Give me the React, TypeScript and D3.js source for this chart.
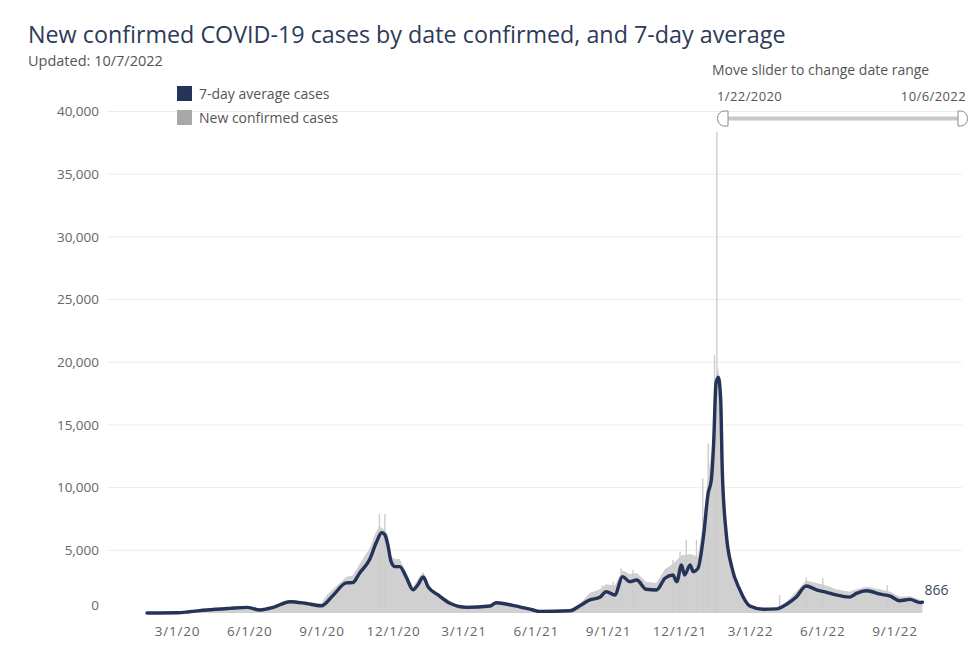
import React from "react";
import * as d3 from "d3";

// 7-day average at irregular dates
const avgDates = [
    "2020-01-22", "2020-03-01", "2020-03-16", "2020-04-07", "2020-05-06", "2020-05-28", "2020-06-14",
    "2020-07-01", "2020-07-22", "2020-08-12", "2020-08-31", "2020-09-15", "2020-10-02", "2020-10-10",
    "2020-10-19", "2020-11-01", "2020-11-09", "2020-11-16", "2020-11-20", "2020-11-24", "2020-11-28",
    "2020-12-03", "2020-12-09", "2020-12-17", "2020-12-26", "2021-01-01", "2021-01-08", "2021-01-14",
    "2021-01-27", "2021-02-11", "2021-03-04", "2021-04-03", "2021-04-11", "2021-05-02", "2021-05-28",
    "2021-06-05", "2021-07-14", "2021-07-26", "2021-08-08", "2021-08-21", "2021-08-29", "2021-09-09",
    "2021-09-19", "2021-09-28", "2021-10-07", "2021-10-19", "2021-11-01", "2021-11-12", "2021-11-22",
    "2021-11-27", "2021-12-03", "2021-12-07", "2021-12-14", "2021-12-18", "2021-12-24", "2021-12-31",
    "2022-01-06", "2022-01-10", "2022-01-13", "2022-01-16", "2022-01-19", "2022-01-22", "2022-01-24",
    "2022-01-29", "2022-02-05", "2022-02-15", "2022-02-28", "2022-03-17", "2022-04-03", "2022-04-16",
    "2022-04-28", "2022-05-11", "2022-05-24", "2022-06-06", "2022-06-18", "2022-07-05", "2022-07-14",
    "2022-07-27", "2022-08-13", "2022-08-26", "2022-09-07", "2022-09-20", "2022-10-03", "2022-10-06"
];
const avgValues = [
    0, 20, 100, 240, 370, 450, 240,
    450, 900, 760, 580, 1400, 2400, 2420,
    3200, 4300, 5600, 6400, 6250, 5400, 4100,
    3700, 3700, 2900, 1850, 2230, 2870, 2100,
    1440, 770, 450, 560, 820, 610, 240,
    130, 180, 560, 1040, 1250, 1700, 1440,
    2900, 2500, 2630, 1890, 1830, 2770, 3030,
    2500, 3830, 3030, 3830, 3290, 3560, 6080,
    9540, 10600, 13530, 18310, 18800, 17000, 11400,
    6360, 3690, 1900, 560, 300, 330, 700,
    1250, 2150, 1850, 1650, 1440, 1270, 1570,
    1770, 1500, 1350, 980, 1090, 830, 866
];

// top edge of the daily bars (typical daily highs)
const caseDates = [
    "2020-01-22", "2020-03-16", "2020-04-07", "2020-05-06", "2020-05-28", "2020-06-14", "2020-07-01",
    "2020-07-22", "2020-08-12", "2020-08-31", "2020-09-08", "2020-09-15", "2020-10-02", "2020-10-10",
    "2020-10-19", "2020-11-01", "2020-11-09", "2020-11-13", "2020-11-20", "2020-11-24", "2020-11-28",
    "2020-12-03", "2020-12-09", "2020-12-17", "2020-12-26", "2021-01-01", "2021-01-08", "2021-01-16",
    "2021-01-29", "2021-02-19", "2021-03-12", "2021-04-03", "2021-04-11", "2021-05-02", "2021-05-28",
    "2021-06-05", "2021-07-14", "2021-07-26", "2021-08-08", "2021-08-21", "2021-08-29", "2021-09-09",
    "2021-09-19", "2021-09-28", "2021-10-07", "2021-10-19", "2021-11-01", "2021-11-12", "2021-11-22",
    "2021-12-03", "2021-12-14", "2021-12-24", "2021-12-31", "2022-01-06", "2022-01-13", "2022-01-16",
    "2022-01-19", "2022-01-22", "2022-01-24", "2022-01-29", "2022-02-05", "2022-02-15", "2022-02-28",
    "2022-03-17", "2022-04-03", "2022-04-16", "2022-04-28", "2022-05-11", "2022-05-24", "2022-06-06",
    "2022-06-18", "2022-07-05", "2022-07-14", "2022-07-27", "2022-08-13", "2022-08-26", "2022-09-07",
    "2022-09-20", "2022-10-03", "2022-10-06"
];
const caseValues = [
    0, 150, 330, 480, 560, 350, 600,
    1050, 900, 750, 1500, 1900, 2900, 3000,
    3900, 5200, 6500, 6900, 6600, 6200, 4500,
    4300, 4300, 3300, 2100, 2700, 3300, 2100,
    1450, 700, 550, 650, 950, 720, 300,
    180, 250, 700, 1600, 1900, 2300, 2200,
    3400, 3100, 3200, 2500, 2400, 3500, 3900,
    4600, 4700, 4500, 7500, 11000, 14000, 19000,
    19500, 17500, 12000, 6800, 4000, 2000, 700,
    380, 420, 900, 1700, 2600, 2400, 2200,
    1900, 1700, 1900, 2100, 1900, 1700, 1300,
    1350, 1050, 900
];

// single days that stand out above the rest
const spikeDates = [
    "2020-11-13", "2020-11-20", "2021-08-24", "2021-09-07", "2021-09-17", "2021-10-02", "2021-11-22",
    "2021-12-01", "2021-12-09", "2021-12-22", "2021-12-30", "2022-01-06", "2022-01-14", "2022-01-17",
    "2022-04-07", "2022-05-11", "2022-06-01", "2022-08-22"
];
const spikeValues = [
    7900, 7900, 2200, 2500, 3560, 3430, 4230,
    4890, 5820, 5820, 10740, 13530, 20570, 38380,
    1440, 2850, 2770, 2230
];

const xTickDates = [
    "2020-03-01", "2020-06-01", "2020-09-01", "2020-12-01", "2021-03-01", "2021-06-01",
    "2021-09-01", "2021-12-01", "2022-03-01", "2022-06-01", "2022-09-01"
];
const yTicks = [0, 5000, 10000, 15000, 20000, 25000, 30000, 35000, 40000];

const startDate = "2020-01-22";
const endDate = "2022-10-06";

const width = 980;
const height = 656;
const font = "'Open Sans', sans-serif";
const navy = "#243358";
const textGray = "#666666";

const parse = d3.timeParse("%Y-%m-%d");

export default function App() {
    const x = d3.scaleTime()
        .domain([parse(startDate)!, parse(endDate)!])
        .range([147, 922.4]);
    const y = d3.scaleLinear()
        .domain([0, 40000])
        .range([613, 111.5]);

    const avg = avgDates.map((d, i) => ({date: parse(d)!, value: avgValues[i]}));
    const cases = caseDates.map((d, i) => ({date: parse(d)!, value: caseValues[i]}));
    const spikes = spikeDates.map((d, i) => ({date: parse(d)!, value: spikeValues[i]}));

    const line = d3.line<{date: Date, value: number}>()
        .x(d => x(d.date))
        .y(d => y(d.value))
        .curve(d3.curveMonotoneX);

    const area = d3.area<{date: Date, value: number}>()
        .x(d => x(d.date))
        .y0(y(0))
        .y1(d => y(d.value))
        .curve(d3.curveLinear);

    const fmtDate = d3.timeFormat("%-m/%-d/%y");
    const fmtNum = d3.format(",");
    const last = avg[avg.length - 1];

    return (
        <svg width={width} height={height}
             style={{position: "absolute", left: 0, top: 0, background: "white", fontFamily: font}}>
            <text x={28} y={43} fontSize={23.3} fill="#2d3a58">
                New confirmed COVID-19 cases by date confirmed, and 7-day average
            </text>
            <text x={28} y={66} fontSize={14.5} fill="#555555">Updated: 10/7/2022</text>

            {/* grid + y labels */}
            {yTicks.map(t => (
                <g key={t}>
                    {t > 0 && <line x1={107} x2={962} y1={y(t)} y2={y(t)} stroke="#ececec" strokeWidth={1}/>}
                    <text x={99} y={t === 0 ? y(t) - 8 : y(t)} dy="0.35em" textAnchor="end"
                          fontSize={13.5} fill={textGray}>{fmtNum(t)}</text>
                </g>
            ))}

            {/* x labels */}
            {xTickDates.map(d => (
                <text key={d} x={x(parse(d)!)} y={636} textAnchor="middle" fontSize={13.5}
                      fill={textGray} letterSpacing={0.8}>{fmtDate(parse(d)!)}</text>
            ))}

            {/* daily cases */}
            <path d={area(cases) || ""} fill="#d0d0d0"/>
            {spikes.map(s => (
                <rect key={s.date.toISOString()} x={x(s.date) - 0.6} width={1.4}
                      y={y(s.value)} height={y(0) - y(s.value)} fill="#cdcdcd"/>
            ))}

            {/* 7-day average */}
            <path d={line(avg) || ""} fill="none" stroke={navy} strokeWidth={3.4}
                  strokeLinejoin="round" strokeLinecap="round"/>
            <text x={x(last.date) + 2} y={y(last.value) - 7} fontSize={14} fill="#3d4866">
                {fmtNum(last.value)}
            </text>

            {/* legend */}
            <rect x={177} y={86} width={15} height={15} fill={navy}/>
            <text x={199} y={99} fontSize={14} fill="#555555">7-day average cases</text>
            <rect x={177} y={110} width={15} height={15} fill="#a8a8a8"/>
            <text x={199} y={123} fontSize={14} fill="#555555">New confirmed cases</text>

            {/* slider */}
            <text x={712} y={75} fontSize={14} fill="#555555">Move slider to change date range</text>
            <text x={717} y={101} fontSize={13} fill="#555555" letterSpacing={0.4}>1/22/2020</text>
            <text x={966} y={101} fontSize={13} fill="#555555" textAnchor="end" letterSpacing={0.4}>10/6/2022</text>
            <line x1={727} x2={959} y1={118.5} y2={118.5} stroke="#c8c8c8" strokeWidth={4}/>
            <path d="M728,111 L724,111 A6.5,7.5 0 0 0 724,126 L728,126 Z" fill="white" stroke="#8a8a8a"/>
            <path d="M958,111 L961,111 A6.5,7.5 0 0 1 961,126 L958,126 Z" fill="white" stroke="#8a8a8a"/>
        </svg>
    );
}
